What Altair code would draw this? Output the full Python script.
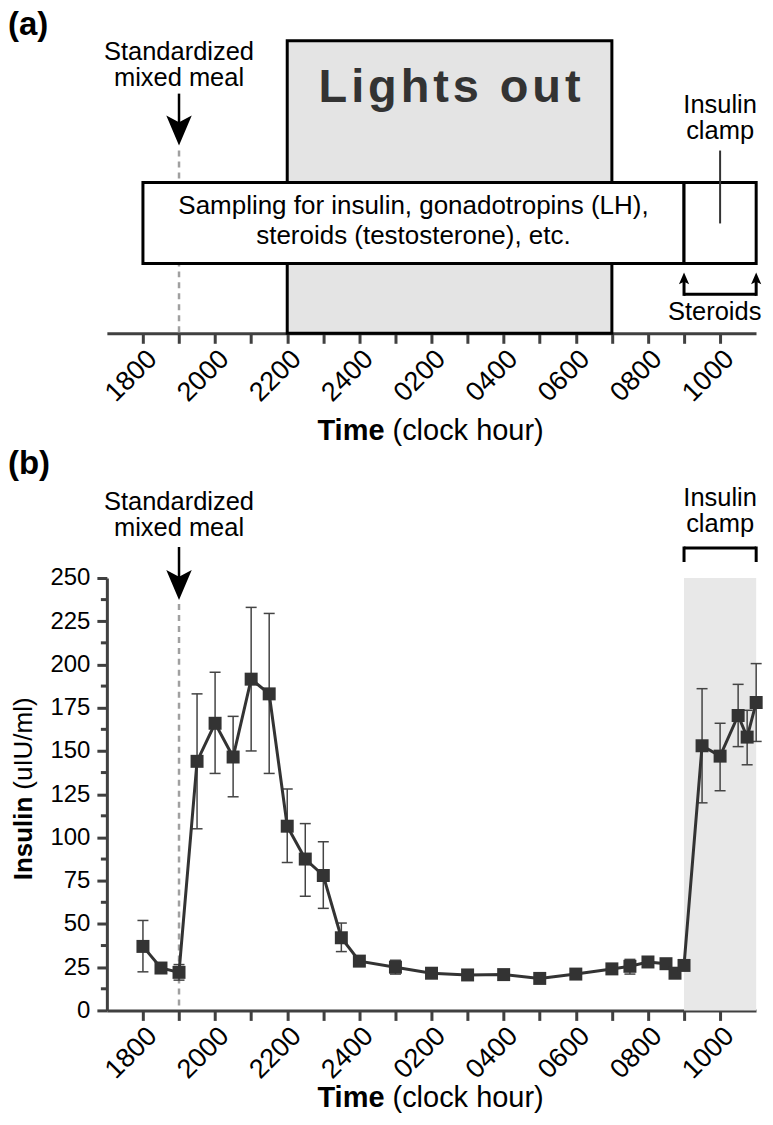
import json
import altair as alt
import pandas as pd

FONT = "Liberation Sans"

# ---- data (hours after 18:00) ----
times = [0, 0.5, 1, 1.5, 2, 2.5, 3, 3.5, 4, 4.5, 5, 5.5, 6, 7, 8, 9, 10, 11, 12,
         13, 13.5, 14, 14.5, 14.75, 15, 15.5, 16, 16.5, 16.75, 17]
insulin = [37, 24.5, 22, 144, 166, 146.5, 191.5, 183, 106.5, 87.5, 78, 42, 28.5, 25,
           21.5, 20.5, 20.7, 18.5, 21, 24, 25.5, 28, 27, 21.5, 26, 153, 147, 170.5, 158, 178]
ins_lo = [22.3, 22, 17.5, 105, 137, 123.5, 150, 137, 85.5, 66, 59, 34, 25.5, 21,
          19.5, 17.5, 19, 16.5, 19, 21, 21, 26, 25, 19.5, 24, 120, 127, 152.5, 142, 155.5]
ins_hi = [52, 27, 26.5, 183, 195.5, 170, 233, 229.5, 128, 108, 97.5, 50.5, 31, 29,
          23.5, 23, 22.5, 20.5, 23, 27, 29.5, 30, 29, 24, 28, 186, 166, 188.5, 173.5, 200.5]

tick_hours = list(range(0, 18))
tick_labels = ["1800", "2000", "2200", "2400", "0200", "0400", "0600", "0800", "1000"]
y_ticks = [0, 25, 50, 75, 100, 125, 150, 175, 200, 225, 250]
y_minor = [12.5, 37.5, 62.5, 87.5, 112.5, 137.5, 162.5, 187.5, 212.5, 237.5]

lights_out = [4, 13]        # 2200 -> 0700
sampling = [0, 15]          # 1800 -> 0900
clamp = [15, 17]            # 0900 -> 1100
meal_time = 1               # 1900

W = 650
XDOM = [-1, -1 + W / 36.12]
HA = 293
HB = 433
AXC = "#404040"
DARK = "#333333"

xscale = alt.Scale(domain=XDOM, nice=False, zero=False)
label_expr = ("datum.value % 2 == 0 ? " + json.dumps(tick_labels) +
              "[datum.value / 2] : ''")
xaxis = alt.Axis(values=tick_hours, labelExpr=label_expr, title=None, grid=False,
                 labelAngle=-45, labelAlign="right", labelBaseline="top",
                 labelFontSize=27, labelFont=FONT, labelColor="black",
                 domainColor=AXC, domainWidth=3, tickColor=AXC, tickWidth=3,
                 tickSize=10, labelPadding=2, labelOverlap=False, labelFlush=False)

ARROW_DOWN = "M0,1L-0.85,-1L0,-0.55L0.85,-1Z"
ARROW_UP = "M0,-1L-0.85,1L0,0.55L0.85,1Z"
CAP = "M-1,0L1,0"


def X(field="x"):
    return alt.X(f"{field}:Q", scale=xscale, axis=xaxis)


def one(**kw):
    return pd.DataFrame({k: [v] for k, v in kw.items()})


def txt(text, x, y, size=25.5, **kw):
    params = dict(text=text, fontSize=size, font=FONT, color="black", baseline="middle")
    params.update(kw)
    return alt.Chart(one(x=x)).mark_text(**params).encode(x=X(), y=alt.value(y))


def ptxt(text, px, py, size, **kw):
    params = dict(text=text, fontSize=size, font=FONT, color="black", baseline="middle")
    params.update(kw)
    return alt.Chart(one(x=0)).mark_text(**params).encode(
        x=alt.value(px), y=alt.value(py))


# ================= Panel (a) =================
a_lights = alt.Chart(one(x=lights_out[0], x2=lights_out[1])).mark_rect(
    fill="#e4e4e4", stroke="black", strokeWidth=3).encode(
    x=X(), x2="x2:Q", y=alt.value(0), y2=alt.value(HA))

hs = "\u200a"
lights_txt = hs.join(list("Lights")) + hs + " " + hs + hs.join(list("out"))
a_lights_text = txt(lights_txt, 8.5, 47, size=47, fontWeight="bold", color=DARK)

a_meal_dash = alt.Chart(one(x=meal_time)).mark_rule(
    color="#a0a0a0", strokeWidth=2.5, strokeDash=[6, 5]).encode(
    x=X(), y=alt.value(110), y2=alt.value(HA))

a_boxes = alt.Chart(pd.DataFrame({"x": [sampling[0], clamp[0]],
                                  "x2": [sampling[1], clamp[1]]})).mark_rect(
    fill="white", stroke="black", strokeWidth=3).encode(
    x=X(), x2="x2:Q", y=alt.value(142), y2=alt.value(223))

a_sampling_text = txt("Sampling for insulin, gonadotropins (LH),\nsteroids (testosterone), etc.",
                      (sampling[0] + sampling[1]) / 2, 166, size=26,
                      lineBreak="\n", lineHeight=30)

a_meal_text = txt("Standardized\nmixed meal", meal_time, 11, lineBreak="\n", lineHeight=26)
a_meal_line = alt.Chart(one(x=meal_time)).mark_rule(color="black", strokeWidth=2.5).encode(
    x=X(), y=alt.value(53), y2=alt.value(86))
a_meal_head = alt.Chart(one(x=meal_time)).mark_point(
    shape=ARROW_DOWN, size=900, filled=True, color="black", opacity=1).encode(
    x=X(), y=alt.value(90))

a_clamp_text = txt("Insulin\nclamp", 16, 64, lineBreak="\n", lineHeight=26)
a_clamp_line = alt.Chart(one(x=16)).mark_rule(color=DARK, strokeWidth=2).encode(
    x=X(), y=alt.value(110), y2=alt.value(183))

st = pd.DataFrame({"x": clamp})
a_st_legs = alt.Chart(st).mark_rule(color="black", strokeWidth=3).encode(
    x=X(), y=alt.value(238), y2=alt.value(255.5))
a_st_heads = alt.Chart(st).mark_point(
    shape=ARROW_UP, size=144, filled=True, color="black", opacity=1).encode(
    x=X(), y=alt.value(238))
a_st_bar = alt.Chart(one(x=clamp[0], x2=clamp[1])).mark_rule(
    color="black", strokeWidth=3).encode(x=X(), x2="x2:Q", y=alt.value(254))
a_st_text = txt("Steroids", 15.85, 272)

a_label = ptxt("(a)", -99, -32, 33, fontWeight="bold", align="left", baseline="top")
a_title1 = ptxt("Time", 278, 391, 29, fontWeight="bold", align="right")
a_title2 = ptxt("(clock hour)", 286, 391, 29, align="left")

panel_a = alt.layer(
    a_lights, a_lights_text, a_meal_dash, a_boxes, a_sampling_text, a_meal_text,
    a_meal_line, a_meal_head, a_clamp_text, a_clamp_line, a_st_legs, a_st_heads,
    a_st_bar, a_st_text, a_label, a_title1, a_title2
).properties(width=W, height=HA)

# ================= Panel (b) =================
yscale = alt.Scale(domain=[0, 250], nice=False, zero=True)
yaxis = alt.Axis(values=y_ticks, title=None, grid=False, labelFontSize=24,
                 labelFont=FONT, labelColor="black", domainColor=AXC, domainWidth=3,
                 tickColor=AXC, tickWidth=3, tickSize=10, labelPadding=7)


def Y(field):
    return alt.Y(f"{field}:Q", scale=yscale, axis=yaxis)


df = pd.DataFrame({"x": times, "y": insulin, "lo": ins_lo, "hi": ins_hi})

b_shade = alt.Chart(one(x=clamp[0], x2=clamp[1], y=0, y2=250)).mark_rect(
    fill="#e8e8e8").encode(x=X(), x2="x2:Q", y=Y("y"), y2="y2:Q")

b_minor = alt.Chart(pd.DataFrame({"m": y_minor})).mark_rule(
    color=AXC, strokeWidth=3).encode(x=alt.value(-6), x2=alt.value(0), y=Y("m"))

b_meal_dash = alt.Chart(one(x=meal_time)).mark_rule(
    color="#a0a0a0", strokeWidth=2.5, strokeDash=[6, 5]).encode(
    x=X(), y=alt.value(26), y2=alt.value(HB))
b_meal_line = alt.Chart(one(x=meal_time)).mark_rule(color="black", strokeWidth=2.5).encode(
    x=X(), y=alt.value(-31), y2=alt.value(4))
b_meal_head = alt.Chart(one(x=meal_time)).mark_point(
    shape=ARROW_DOWN, size=900, filled=True, color="black", opacity=1).encode(
    x=X(), y=alt.value(7))
b_meal_text = txt("Standardized\nmixed meal", meal_time, -76, lineBreak="\n", lineHeight=26)

b_clamp_text = txt("Insulin\nclamp", 16, -80, lineBreak="\n", lineHeight=26)
b_br_legs = alt.Chart(st).mark_rule(color="black", strokeWidth=3).encode(
    x=X(), y=alt.value(-31.5), y2=alt.value(-16))
b_br_bar = alt.Chart(one(x=clamp[0], x2=clamp[1])).mark_rule(
    color="black", strokeWidth=3).encode(x=X(), x2="x2:Q", y=alt.value(-30))

b_err = alt.Chart(df).mark_rule(color="#444444", strokeWidth=1.5).encode(
    x=X(), y=Y("lo"), y2="hi:Q")
b_cap_lo = alt.Chart(df).mark_point(shape=CAP, size=121, filled=False,
                                    color="#444444", strokeWidth=1.5, opacity=1).encode(
    x=X(), y=Y("lo"))
b_cap_hi = alt.Chart(df).mark_point(shape=CAP, size=121, filled=False,
                                    color="#444444", strokeWidth=1.5, opacity=1).encode(
    x=X(), y=Y("hi"))
b_line = alt.Chart(df).mark_line(color=DARK, strokeWidth=3).encode(x=X(), y=Y("y"))
b_pts = alt.Chart(df).mark_square(size=169, color=DARK, opacity=1, strokeWidth=0).encode(
    x=X(), y=Y("y"))

b_label = ptxt("(b)", -99, -130, 33, fontWeight="bold", align="left", baseline="top")
b_ytitle1 = ptxt("Insulin", -83, 219, 26, fontWeight="bold", align="right", angle=270)
b_ytitle2 = ptxt("(uIU/ml)", -83, 212, 26, align="left", angle=270)
b_title1 = ptxt("Time", 278, 521, 29, fontWeight="bold", align="right")
b_title2 = ptxt("(clock hour)", 286, 521, 29, align="left")

panel_b = alt.layer(
    b_shade, b_minor, b_meal_dash, b_meal_line, b_meal_head, b_meal_text,
    b_clamp_text, b_br_legs, b_br_bar, b_err, b_cap_lo, b_cap_hi, b_line, b_pts,
    b_label, b_ytitle1, b_ytitle2, b_title1, b_title2
).properties(width=W, height=HB)

chart = alt.vconcat(panel_a, panel_b, spacing=245, bounds="flush").properties(
    padding=0
).configure_view(stroke=None)

chart.save("out.html", embed_options={"renderer": "svg", "actions": False})
